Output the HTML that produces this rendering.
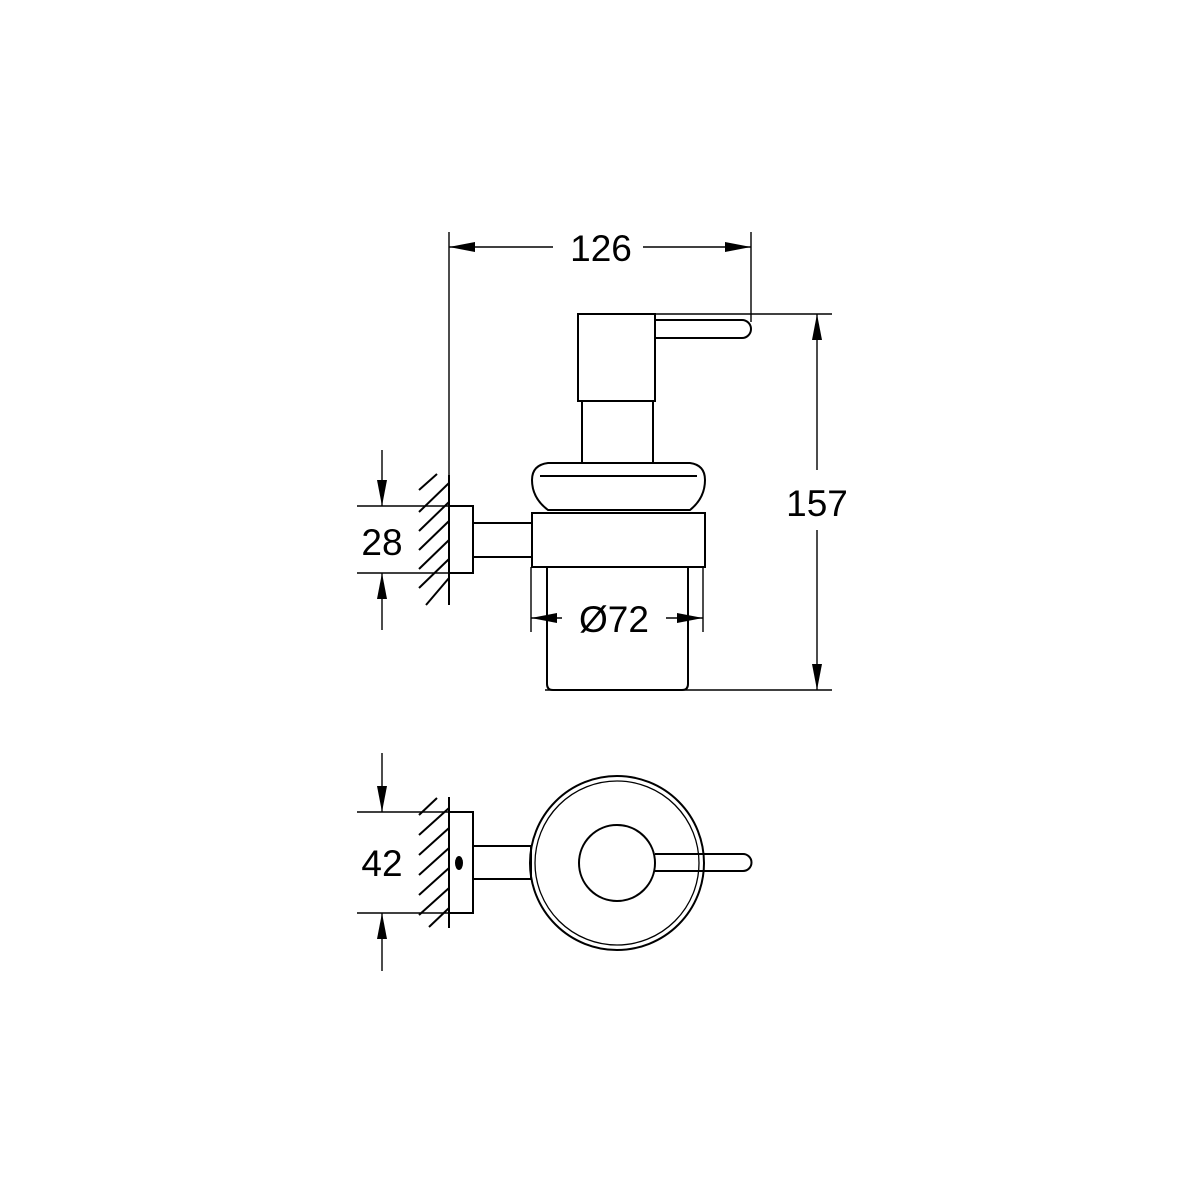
<!DOCTYPE html>
<html><head><style>html,body{margin:0;padding:0;background:#fff}svg{display:block}</style></head>
<body>
<svg width="1200" height="1200" viewBox="0 0 1200 1200" xmlns="http://www.w3.org/2000/svg">
<defs>
<marker id="a" viewBox="0 0 26 10" refX="26" refY="5" markerWidth="26" markerHeight="10" markerUnits="userSpaceOnUse" orient="auto"><path d="M0,0 L26,5 L0,10 Z" fill="#000"/></marker>
</defs>
<g fill="none" stroke="#000" stroke-width="1.4">
<line x1="449" y1="232" x2="449" y2="605"/>
<line x1="751" y1="232" x2="751" y2="322"/>
<line x1="553" y1="247" x2="449" y2="247" marker-end="url(#a)"/>
<line x1="643" y1="247" x2="751" y2="247" marker-end="url(#a)"/>
<line x1="655" y1="314" x2="832" y2="314"/>
<line x1="545" y1="690" x2="832" y2="690"/>
<line x1="817" y1="470" x2="817" y2="314" marker-end="url(#a)"/>
<line x1="817" y1="530" x2="817" y2="690" marker-end="url(#a)"/>
<line x1="357" y1="506" x2="449" y2="506"/>
<line x1="357" y1="573" x2="449" y2="573"/>
<line x1="382" y1="450" x2="382" y2="506" marker-end="url(#a)"/>
<line x1="382" y1="630" x2="382" y2="573" marker-end="url(#a)"/>
<line x1="531" y1="567" x2="531" y2="632"/>
<line x1="703" y1="567" x2="703" y2="632"/>
<line x1="562" y1="618" x2="531" y2="618" marker-end="url(#a)"/>
<line x1="666" y1="618" x2="703" y2="618" marker-end="url(#a)"/>
<line x1="357" y1="812" x2="449" y2="812"/>
<line x1="357" y1="913" x2="449" y2="913"/>
<line x1="382" y1="753" x2="382" y2="812" marker-end="url(#a)"/>
<line x1="382" y1="971" x2="382" y2="913" marker-end="url(#a)"/>
</g>
<g fill="none" stroke="#000" stroke-width="2">
<line x1="419" y1="490" x2="437" y2="474"/>
<line x1="419" y1="512" x2="449" y2="483"/>
<line x1="419" y1="531" x2="449" y2="502"/>
<line x1="419" y1="550" x2="449" y2="521"/>
<line x1="419" y1="569" x2="449" y2="540"/>
<line x1="419" y1="588" x2="449" y2="559"/>
<line x1="426" y1="605" x2="449" y2="578"/>
<line x1="449" y1="475" x2="449" y2="605"/>
<rect x="578" y="314" width="77" height="87"/>
<path d="M655,320 L742,320 A9,9 0 0 1 742,338 L655,338"/>
<rect x="582" y="401" width="71" height="62"/>
<path d="M548,463 L690,463 Q705,465 705,480 Q705,498 690,510 L548,510 Q532,498 532,480 Q532,465 548,463 Z"/>
<line x1="540" y1="476" x2="697" y2="476"/>
<rect x="532" y="513" width="173" height="54"/>
<path d="M547,567 L547,684 Q547,690 553,690 L682,690 Q688,690 688,684 L688,567"/>
<rect x="449" y="506" width="24" height="67"/>
<rect x="473" y="523" width="59" height="34"/>
<line x1="419" y1="815" x2="437" y2="798"/>
<line x1="419" y1="835" x2="449" y2="808"/>
<line x1="419" y1="855" x2="449" y2="828"/>
<line x1="419" y1="875" x2="449" y2="848"/>
<line x1="419" y1="895" x2="449" y2="868"/>
<line x1="419" y1="915" x2="449" y2="888"/>
<line x1="429" y1="927" x2="449" y2="908"/>
<line x1="449" y1="797" x2="449" y2="928"/>
<rect x="449" y="812" width="24" height="101"/>
<rect x="473" y="846" width="58" height="33"/>
<circle cx="617" cy="863" r="87"/>
<circle cx="617" cy="863" r="82" stroke-width="1.3"/>
<circle cx="617" cy="863" r="38"/>
<path d="M655,854 L743,854 A8.5,8.5 0 0 1 743,871 L655,871"/>
</g>
<ellipse cx="459" cy="863" rx="4" ry="7" fill="#000"/>
<g font-family="Liberation Sans, sans-serif" font-size="37" fill="#000" text-anchor="middle">
<text x="601" y="261">126</text>
<text x="817" y="516">157</text>
<text x="382" y="555">28</text>
<text x="614" y="632">Ø72</text>
<text x="382" y="876">42</text>
</g>
</svg>
</body></html>
